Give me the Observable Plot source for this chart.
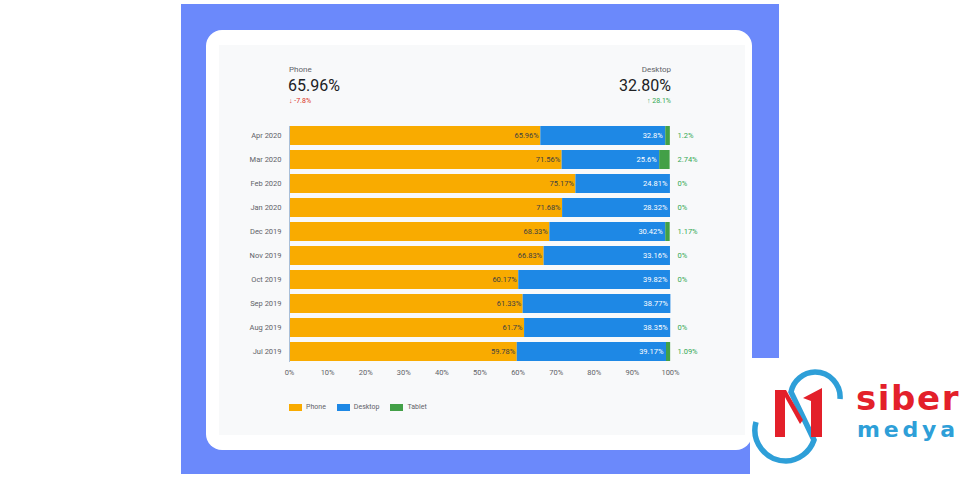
<!DOCTYPE html>
<html><head><meta charset="utf-8">
<script src="https://cdn.jsdelivr.net/npm/d3@7"></script>
<script src="https://cdn.jsdelivr.net/npm/@observablehq/plot@0.6"></script>
<style>
html,body{margin:0;padding:0}
body{width:960px;height:480px;background:#fff;position:relative;overflow:hidden;font-family:Roboto,"Noto Sans",sans-serif}
.abs{position:absolute}
#bg{left:181px;top:4px;width:598px;height:470px;background:#6b89fb}
#card{left:206px;top:30px;width:546px;height:420px;background:#fff;border-radius:16px}
#panel{left:219px;top:45px;width:526px;height:390px;background:#f8f9fa}
.kl{font-size:8px;color:#5f6368;line-height:10px}
.kv{font-size:16px;color:#202124;line-height:18px}
.kd{font-size:7px;line-height:9px}
#chart{left:220px;top:120px}
#legend{left:289px;top:403px;display:flex;align-items:center;font-size:7px;color:#5f6368}
#legend .it{display:flex;align-items:center;margin-right:11px}
#legend .sw{width:13px;height:7px;margin-right:4px}
#logo{left:750px;top:358px;width:210px;height:116px;background:#fff}
</style></head>
<body>
<div id="bg" class="abs"></div>
<div id="card" class="abs"></div>
<div id="panel" class="abs"></div>
<div class="abs kl" style="left:289px;top:65px">Phone</div>
<div class="abs kv" style="left:288px;top:77px">65.96%</div>
<div class="abs kd" style="left:289px;top:97px;color:#d93025">↓ -7.8%</div>
<div class="abs kl" style="right:289px;top:65px;text-align:right">Desktop</div>
<div class="abs kv" style="right:289px;top:77px;text-align:right">32.80%</div>
<div class="abs kd" style="right:289px;top:97px;text-align:right;color:#34a853">↑ 28.1%</div>
<div id="chart" class="abs"></div>
<div id="legend" class="abs"></div>
<div id="logo" class="abs">
<svg width="210" height="116" viewBox="750 358 210 116">
<path d="M840,399 A25,25 0 0 0 815,372 A25,25 0 0 0 791,392 L814,440 A31,31 0 0 1 786,461 A31,31 0 0 1 756,422" fill="none" stroke="#2e9fd8" stroke-width="5.5"/>
<polygon points="775,390 785,390 785,437 775,437" fill="#e3202a"/>
<polygon points="781,390 786,390 803,420 800,424" fill="#e3202a"/>
<polygon points="803,398 822,388 822,437 811,437 811,401" fill="#e3202a"/>
<text x="856" y="410" font-family="'DejaVu Sans',sans-serif" font-weight="700" font-size="34" fill="#e3202a" letter-spacing="1.6">siber</text>
<text x="857" y="437" font-family="'DejaVu Sans',sans-serif" font-weight="700" font-size="22" fill="#2e9fd8" letter-spacing="3.8">medya</text>
</svg>
</div>
<script>
const months = ["Apr 2020","Mar 2020","Feb 2020","Jan 2020","Dec 2019","Nov 2019","Oct 2019","Sep 2019","Aug 2019","Jul 2019"];
const phone   = [65.96, 71.56, 75.17, 71.68, 68.33, 66.83, 60.17, 61.33, 61.7, 59.78];
const desktop = [32.8, 25.6, 24.81, 28.32, 30.42, 33.16, 39.82, 38.77, 38.35, 39.17];
const tablet  = [1.2, 2.74, 0, 0, 1.17, 0, 0, 0, 0, 1.09];
const phoneLabels   = ["65.96%","71.56%","75.17%","71.68%","68.33%","66.83%","60.17%","61.33%","61.7%","59.78%"];
const desktopLabels = ["32.8%","25.6%","24.81%","28.32%","30.42%","33.16%","39.82%","38.77%","38.35%","39.17%"];
const tabletLabels  = ["1.2%","2.74%","0%","0%","1.17%","0%","0%","","0%","1.09%"];
const series = ["Phone","Desktop","Tablet"];
const colors = ["#f9ab00","#1e88e5","#43a047"];
const xTicks = [0,10,20,30,40,50,60,70,80,90,100];

const rows = [];
months.forEach((m,i)=>{
  rows.push({month:m, series:"Phone", value:phone[i]});
  rows.push({month:m, series:"Desktop", value:desktop[i]});
  rows.push({month:m, series:"Tablet", value:tablet[i]});
});
const labels = months.map((m,i)=>({month:m, p:phone[i], pd:phone[i]+desktop[i], pl:phoneLabels[i], dl:desktopLabels[i], tl:tabletLabels[i]}));

const chart = Plot.plot({
  width:520, height:265,
  marginLeft:69, marginRight:70, marginTop:6, marginBottom:23,
  style:{fontFamily:"Roboto, sans-serif", fontSize:"7.5px", color:"#5f6368", background:"transparent"},
  x:{domain:[0,100], ticks:xTicks, tickFormat:d=>d+"%", tickSize:0, tickPadding:7, label:null},
  y:{domain:months, paddingInner:0.207, paddingOuter:0, tickSize:0, tickPadding:8, label:null},
  color:{domain:series, range:colors},
  marks:[
    Plot.barX(rows, Plot.stackX({x:"value", y:"month", fill:"series", order:series})),
    Plot.ruleX([0], {stroke:"#a9bfd8", strokeWidth:1, y1:null, y2:null}),
    Plot.text(labels, {x:"p", y:"month", text:"pl", textAnchor:"end", dx:-2, fill:"#3c4043"}),
    Plot.text(labels, {x:"pd", y:"month", text:"dl", textAnchor:"end", dx:-3, fill:"#ffffff"}),
    Plot.text(labels, {x:100, y:"month", text:"tl", textAnchor:"start", dx:7, fill:"#34a853"})
  ]
});
document.getElementById("chart").appendChild(chart);

const lg = document.getElementById("legend");
series.forEach((s,i)=>{
  const it = document.createElement("div"); it.className="it";
  const sw = document.createElement("div"); sw.className="sw"; sw.style.background=colors[i];
  const t = document.createElement("span"); t.textContent=s;
  it.appendChild(sw); it.appendChild(t); lg.appendChild(it);
});
</script>
</body></html>
